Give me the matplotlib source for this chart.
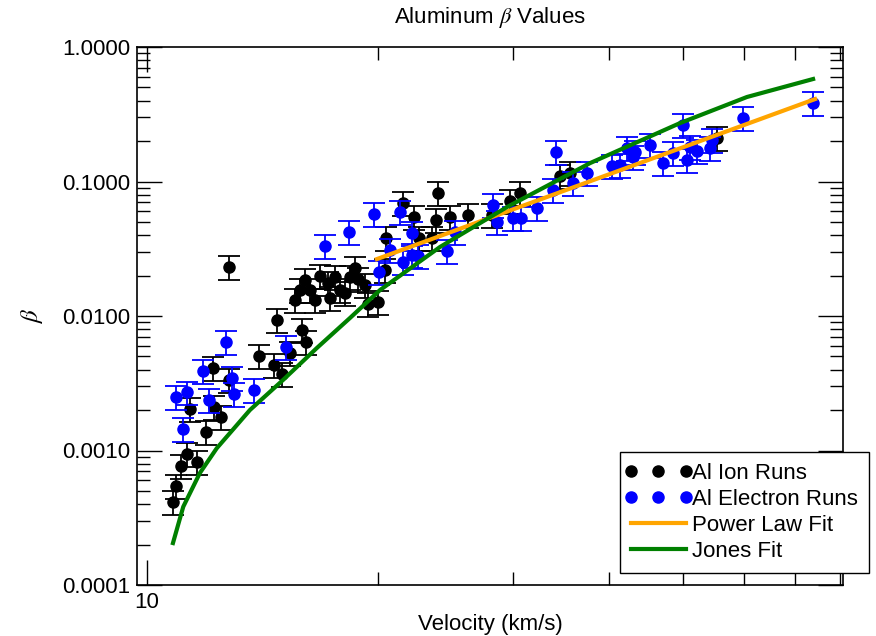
import matplotlib
matplotlib.use('Agg')
import matplotlib.pyplot as plt
from matplotlib.lines import Line2D
from matplotlib.legend_handler import HandlerLine2D
from matplotlib.ticker import LogLocator, NullFormatter, FuncFormatter

plt.rcParams['font.family'] = ['Liberation Sans', 'DejaVu Sans']
plt.rcParams['mathtext.fontset'] = 'stix'

# ---- data ----
ion_v = [10.81, 10.91, 11.07, 11.28, 11.62, 11.94, 11.38, 12.19, 12.23, 12.49,
         12.79, 12.79, 14.00, 14.64, 15.00, 14.77, 15.36, 16.12, 15.92, 15.60,
         15.83, 16.07, 16.31, 16.56, 16.81, 17.21, 17.32, 17.58, 17.85, 18.12,
         18.39, 18.67, 18.84, 19.24, 19.41, 20.01, 20.43, 20.49, 21.56, 22.28,
         22.62, 23.56, 23.83, 23.96, 24.83, 26.21, 28.17, 29.73, 30.64, 34.55,
         35.60, 55.36]
ion_beta = [0.000414, 0.000545, 0.000767, 0.000942, 0.000821, 0.00137, 0.00203, 0.00410, 0.00211, 0.00177,
            0.00334, 0.0231, 0.00504, 0.00432, 0.00371, 0.00934, 0.00531, 0.00641, 0.00787, 0.0132,
            0.0156, 0.0185, 0.0156, 0.0132, 0.0198, 0.0176, 0.0136, 0.0195, 0.0156, 0.0148,
            0.0195, 0.0227, 0.0188, 0.0170, 0.0123, 0.0127, 0.0220, 0.0380, 0.0692, 0.0545,
            0.0380, 0.0380, 0.0517, 0.0821, 0.0545, 0.0563, 0.0563, 0.0716, 0.0821, 0.1099,
            0.1157, 0.2106]

ele_v = [10.91, 11.28, 11.14, 11.83, 12.05, 12.67, 12.91, 12.98, 13.79, 15.18,
         17.06, 18.34, 19.77, 21.37, 22.15, 20.74, 21.56, 22.15, 22.55, 20.07,
         25.21, 24.61, 28.25, 28.56, 30.00, 30.74, 32.25, 33.83, 34.14, 35.92,
         37.46, 40.39, 41.37, 42.25, 43.01, 43.27, 45.26, 47.07, 48.50, 49.96,
         50.58, 51.05, 52.13, 54.20, 54.53, 59.84, 73.86]
ele_beta = [0.00250, 0.00271, 0.00145, 0.00390, 0.00237, 0.00641, 0.00346, 0.00263, 0.00282, 0.00588,
            0.0332, 0.0421, 0.0573, 0.0593, 0.0414, 0.0310, 0.0252, 0.0284, 0.0279, 0.0212,
            0.0421, 0.0304, 0.0669, 0.0500, 0.0535, 0.0535, 0.0635, 0.0865, 0.1657, 0.0975,
            0.1157, 0.1304, 0.1326, 0.1774, 0.1521, 0.1657, 0.1868, 0.1373, 0.1629, 0.263,
            0.1445, 0.1805, 0.1685, 0.1774, 0.2035, 0.297, 0.383]

beta_rel_err = 0.2

power_v = [19.94, 74.3]
power_beta = [0.0265, 0.41]

jones_v = [10.81, 11.15, 11.72, 12.33, 13.62, 15.04, 16.65, 18.39, 20.13, 24.10,
           29.47, 37.81, 49.55, 60.57, 73.86]
jones_beta = [0.000205, 0.000382, 0.00068, 0.00104, 0.0020, 0.00334, 0.00578, 0.00966, 0.0156, 0.0326,
              0.0646, 0.137, 0.272, 0.425, 0.578]

y_ticks = [0.0001, 0.001, 0.01, 0.1, 1.0]

# ---- figure ----
FS = 16
fig = plt.figure(figsize=(8.76, 6.36), dpi=100)
ax = fig.add_axes([137/876, 51/636, 706/876, 538/636])
ax.set_xscale('log')
ax.set_yscale('log')

ax.errorbar(ion_v, ion_beta, yerr=[b*beta_rel_err for b in ion_beta], fmt='o',
            color='black', ms=8, capsize=8, elinewidth=1.3, capthick=1.3, zorder=3)
ax.errorbar(ele_v, ele_beta, yerr=[b*beta_rel_err for b in ele_beta], fmt='o',
            color='#0000ff', ms=8, capsize=8, elinewidth=1.3, capthick=1.3, zorder=4)
ax.plot(power_v, power_beta, color='#ffa500', lw=3, zorder=5)
ax.plot(jones_v, jones_beta, color='#008000', lw=3, zorder=6)

ax.set_xlim(9.704, 80.8)
ax.set_ylim(1e-4, 1.0)

ax.xaxis.set_major_locator(LogLocator(base=10))
ax.xaxis.set_minor_locator(LogLocator(base=10, subs=range(2, 10)))
ax.xaxis.set_major_formatter(FuncFormatter(lambda v, p: '%d' % round(v)))
ax.xaxis.set_minor_formatter(NullFormatter())
ax.set_yticks(y_ticks)
ax.yaxis.set_minor_locator(LogLocator(base=10, subs=range(2, 10)))
ax.yaxis.set_major_formatter(FuncFormatter(lambda v, p: '%.4f' % v))
ax.yaxis.set_minor_formatter(NullFormatter())

ax.tick_params(which='both', direction='in', top=True, right=True, width=1.0,
               labelsize=FS, colors='black')
ax.tick_params(which='major', length=18, pad=5)
ax.tick_params(which='minor', length=9.5)
for s in ax.spines.values():
    s.set_linewidth(1.2)

ax.set_title(r'Aluminum $\beta$ Values', fontsize=FS, pad=17)
ax.set_xlabel('Velocity (km/s)', fontsize=FS, labelpad=1)
ax.set_ylabel(r'$\beta$', fontsize=FS+2, labelpad=12)

handles = [
    Line2D([], [], marker='o', ls='none', color='black', ms=8),
    Line2D([], [], marker='o', ls='none', color='#0000ff', ms=8),
    Line2D([], [], color='#ffa500', lw=3),
    Line2D([], [], color='#008000', lw=3),
]
labels = ['Al Ion Runs', 'Al Electron Runs', 'Power Law Fit', 'Jones Fit']
leg = fig.legend(handles, labels, loc='upper left', bbox_to_anchor=(620/876, 1-452/636),
                 fontsize=FS, numpoints=3, handlelength=2.45, handletextpad=0.3,
                 labelspacing=0.22, borderpad=0.5, borderaxespad=0, fancybox=False,
                 framealpha=1, edgecolor='black',
                 handler_map={Line2D: HandlerLine2D(marker_pad=0)})
leg.get_frame().set_linewidth(1.0)

fig.savefig('out.png', dpi=100)
